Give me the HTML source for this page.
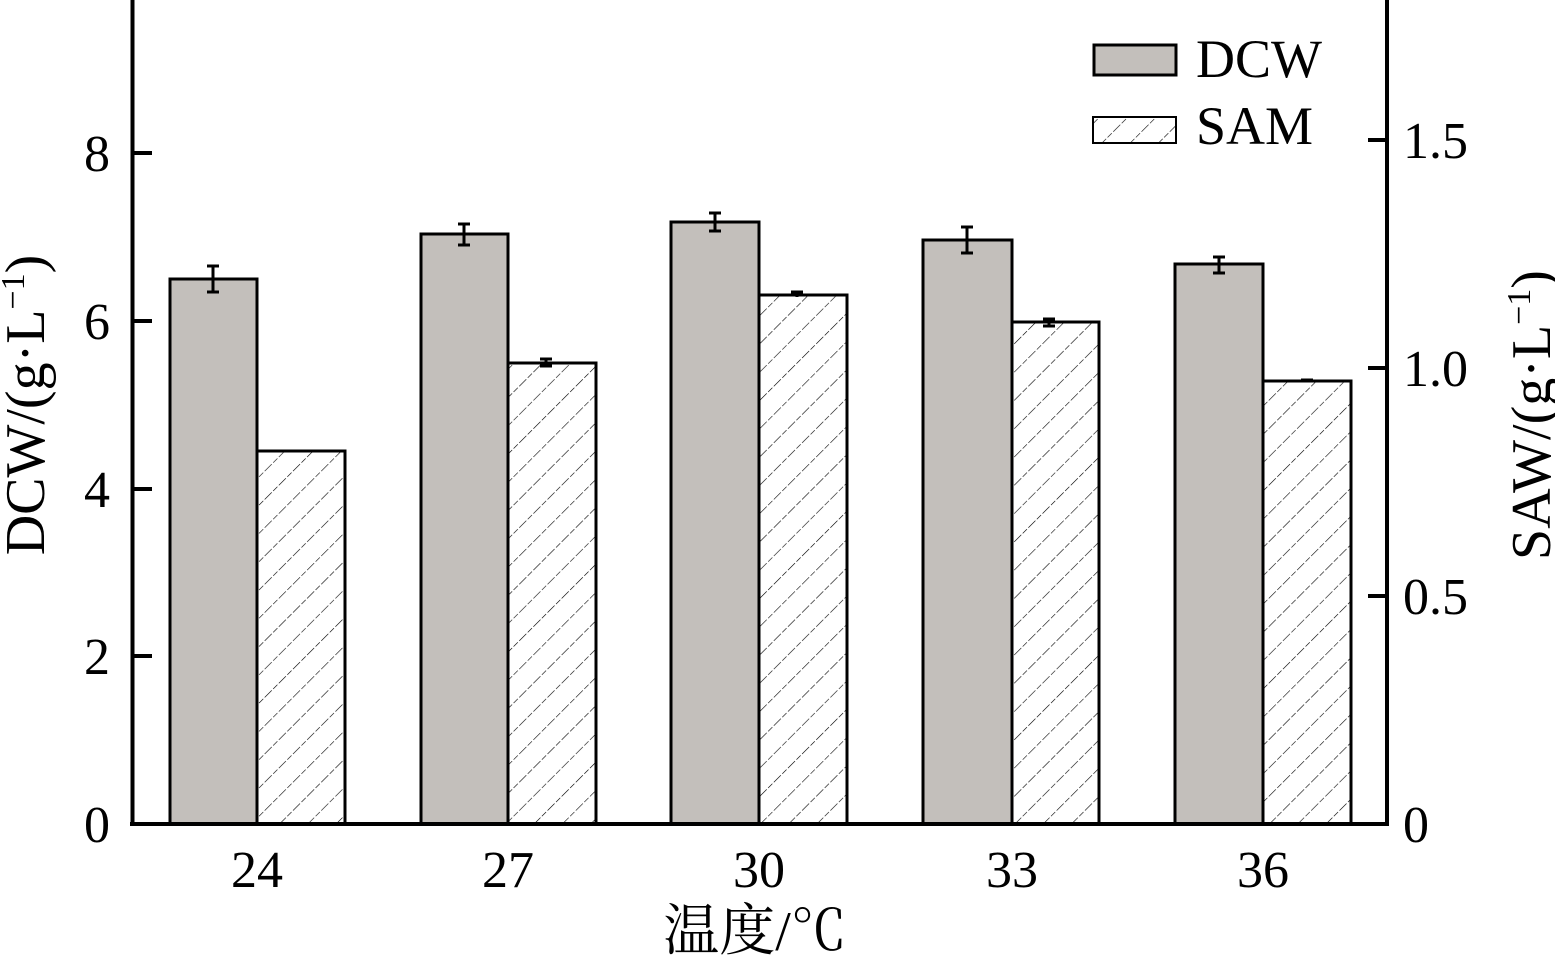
<!DOCTYPE html>
<html><head><meta charset="utf-8"><style>html,body{margin:0;padding:0;background:#fff}</style></head>
<body>
<svg width="1555" height="957" viewBox="0 0 1555 957" xmlns="http://www.w3.org/2000/svg" font-family="Liberation Serif, 'Noto Serif CJK SC', serif">
<defs>
<pattern id="h" patternUnits="userSpaceOnUse" width="20" height="20" patternTransform="rotate(45)">
<line x1="0" y1="0" x2="0" y2="20" stroke="#000" stroke-width="1.2" stroke-dasharray="6 2"/>
</pattern>
</defs>
<g stroke="#000" stroke-width="3">
<rect x="170" y="279" width="87" height="545" fill="#c3bfbb"/>
<rect x="257" y="451" width="88" height="373" fill="url(#h)"/>
<rect x="421" y="234" width="87" height="590" fill="#c3bfbb"/>
<rect x="508" y="363" width="88" height="461" fill="url(#h)"/>
<rect x="671" y="222" width="88" height="602" fill="#c3bfbb"/>
<rect x="759" y="295" width="88" height="529" fill="url(#h)"/>
<rect x="923" y="240" width="89" height="584" fill="#c3bfbb"/>
<rect x="1012" y="322" width="87" height="502" fill="url(#h)"/>
<rect x="1175" y="264" width="88" height="560" fill="#c3bfbb"/>
<rect x="1263" y="381" width="88" height="443" fill="url(#h)"/>
</g>
<g stroke="#000" stroke-width="3">
<path d="M213 266V292M207 266H219M207 292H219"/>
<path d="M464 224V245M458 224H470M458 245H470"/>
<path d="M715 213V231M709 213H721M709 231H721"/>
<path d="M967 227V253M961 227H973M961 253H973"/>
<path d="M1219 257V273M1213 257H1225M1213 273H1225"/>
<path d="M546 359V366M540 359H552M540 366H552"/>
<path d="M797 292V297M791 292H803"/>
<path d="M1049 319V326M1043 319H1055M1043 326H1055"/>
<path d="M1301 380H1313"/>
</g>
<g stroke="#000" stroke-width="4" fill="none">
<path d="M132.5 0V824M1387 0V824M130 824H1389"/>
<path d="M133 656H152M133 489H152M133 321H152M133 153H152"/>
<path d="M1387 596H1368M1387 368H1368M1387 140H1368"/>
</g>
<g font-size="52" text-anchor="end">
<text x="110" y="842">0</text><text x="110" y="674">2</text><text x="110" y="507">4</text><text x="110" y="339">6</text><text x="110" y="171">8</text>
</g>
<g font-size="52" text-anchor="start">
<text x="1403" y="842">0</text><text x="1403" y="614">0.5</text><text x="1403" y="386">1.0</text><text x="1403" y="158">1.5</text>
</g>
<g font-size="52" text-anchor="middle">
<text x="257" y="887">24</text><text x="508" y="887">27</text><text x="759" y="887">30</text><text x="1012" y="887">33</text><text x="1263" y="887">36</text>
<text x="755" y="950" font-size="56">温度/℃</text>
</g>
<text transform="translate(44,405) rotate(-90)" font-size="56" text-anchor="middle">DCW/(g·L<tspan font-size="34" dy="-20">−1</tspan><tspan dy="20">)</tspan></text>
<text transform="translate(1550,415) rotate(-90)" font-size="56" text-anchor="middle">SAW/(g·L<tspan font-size="34" dy="-20">−1</tspan><tspan dy="20">)</tspan></text>
<rect x="1094" y="45" width="82" height="30" fill="#c3bfbb" stroke="#000" stroke-width="3"/>
<rect x="1093" y="117" width="83" height="26" fill="url(#h)" stroke="#000" stroke-width="2"/>
<text x="1196" y="77" font-size="54">DCW</text>
<text x="1196" y="144" font-size="54">SAM</text>
</svg>
</body></html>
